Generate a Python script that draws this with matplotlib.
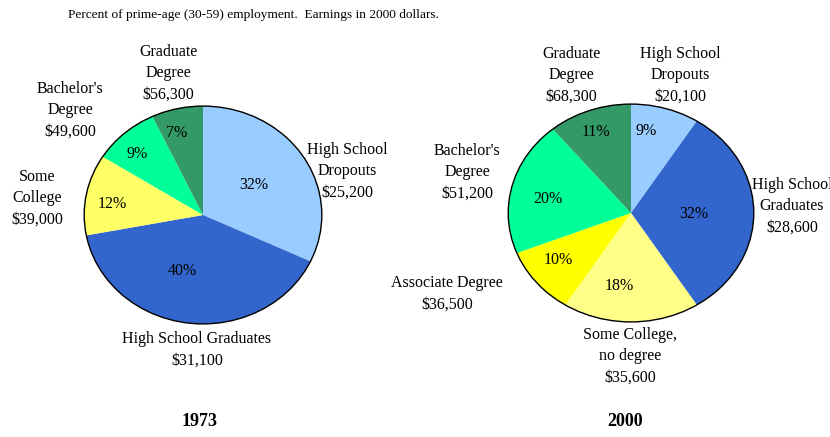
import numpy as np
import matplotlib
matplotlib.use("Agg")
import matplotlib.pyplot as plt
from matplotlib.patches import Circle

plt.rcParams['font.family'] = ['Liberation Serif', 'DejaVu Serif']

# 1973 data (clockwise from top)
cats_1973 = ["High School\nDropouts", "High School Graduates", "Some\nCollege",
             "Bachelor's\nDegree", "Graduate\nDegree"]
share_1973 = [32, 40, 12, 9, 7]
earn_1973 = ["$25,200", "$31,100", "$39,000", "$49,600", "$56,300"]
colors_1973 = ["#99CCFF", "#3366CC", "#FFFF66", "#00FF99", "#339966"]

# 2000 data (clockwise from top)
cats_2000 = ["High School\nDropouts", "High School\nGraduates", "Some College,\nno degree",
             "Associate Degree", "Bachelor's\nDegree", "Graduate\nDegree"]
share_2000 = [9, 32, 18, 10, 20, 11]
earn_2000 = ["$20,100", "$28,600", "$35,600", "$36,500", "$51,200", "$68,300"]
colors_2000 = ["#99CCFF", "#3366CC", "#FFFF88", "#FFFF00", "#00FF99", "#339966"]

W, H = 830, 437
fig = plt.figure(figsize=(W / 100, H / 100), dpi=100)


def px(x, y):
    return x / W, 1 - y / H


def draw_pie(box, shares, colors, pct_r, pct_da):
    x0, y0, x1, y1 = box
    ax = fig.add_axes([x0 / W, 1 - y1 / H, (x1 - x0) / W, (y1 - y0) / H])
    wedges, _ = ax.pie(shares, colors=colors, startangle=90, counterclock=False,
                       wedgeprops=dict(linewidth=0))
    ax.add_patch(Circle((0, 0), 1, fill=False, edgecolor='black', lw=1.0, zorder=5))
    ax.set_aspect('auto')
    ax.set_xlim(-1.01, 1.01)
    ax.set_ylim(-1.01, 1.01)
    ax.axis('off')
    for w, s, r, da in zip(wedges, shares, pct_r, pct_da):
        ang = np.deg2rad((w.theta1 + w.theta2) / 2 + da)
        ax.text(r * np.cos(ang), r * np.sin(ang), f"{s}%", ha='center', va='center',
                fontsize=11.5, zorder=6)
    return ax


# left pie
draw_pie((83, 105, 323, 325), share_1973, colors_1973,
         [0.51, 0.54, 0.77, 0.79, 0.79], [0, -12, 3, 3, 4])
# right pie
draw_pie((507, 103, 755, 323), share_2000, colors_2000,
         [0.76, 0.51, 0.68, 0.73, 0.69, 0.80], [7, -1, -8, -3.5, 4, 1])

# outer labels: (text centre x, first-line centre y) in pixels
lab_pos_1973 = [(347, 149), (197, 338), (37, 176), (70, 88), (168, 51)]
lab_pos_2000 = [(680, 53), (792, 184), (630, 334), (447, 282), (467, 150), (571, 53)]

for cats, earn, pos in [(cats_1973, earn_1973, lab_pos_1973),
                        (cats_2000, earn_2000, lab_pos_2000)]:
    for c, e, (x, y) in zip(cats, earn, pos):
        fx, fy = px(x, y - 7)
        fig.text(fx, fy, c + "\n" + e, ha='center', va='top', fontsize=11.5,
                 linespacing=1.43, multialignment='center')

fig.text(*px(68, 15), "Percent of prime-age (30-59) employment.  Earnings in 2000 dollars.",
         ha='left', va='center', fontsize=9.6)
fig.text(*px(200, 422), "1973", ha='center', va='center', fontsize=13, fontweight='bold')
fig.text(*px(625, 422), "2000", ha='center', va='center', fontsize=13, fontweight='bold')

fig.savefig("out.png", dpi=100, facecolor='white')
